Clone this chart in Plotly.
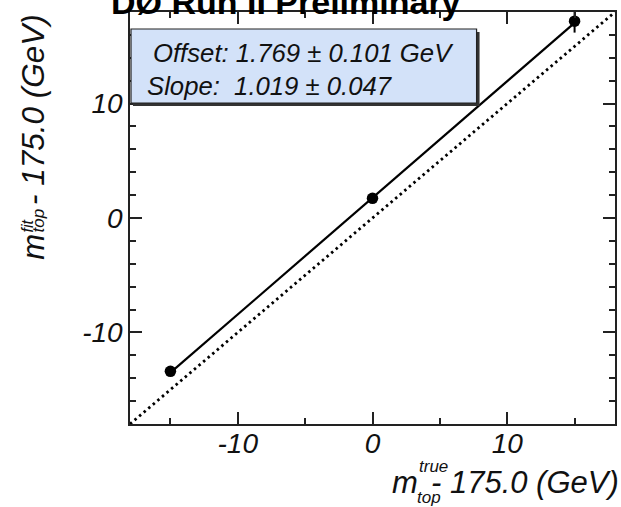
import plotly.graph_objects as go

# Generated top-mass points vs. fitted mass (both shifted by 175 GeV)
m_true = [-15.0, 0.0, 15.0]
m_fit = [-13.4, 1.72, 17.2]
m_fit_err = [0.4, 0.4, 1.0]

# Linear calibration fit result
fit_offset = 1.769
fit_offset_err = 0.101
fit_slope = 1.019
fit_slope_err = 0.047

# Unit-slope reference line
ref_x = [-18.0, 18.0]

tick_vals = [-10, 0, 10]
tick_text = ["-10", "0", "10"]

W, H = 621, 507
L, R, T, B = 130, 617, 12, 424
FONT = "Liberation Sans"


def fx(p):
    return (p - L) / (R - L)


def fy(p):
    return (B - p) / (B - T)


fit_x = [m_true[0], m_true[-1]]
fit_y = [fit_offset + fit_slope * x for x in fit_x]

fig = go.Figure()

fig.add_trace(go.Scatter(
    x=ref_x, y=ref_x, mode="lines",
    line=dict(color="black", width=2.8, dash="2.5px,3.5px"),
    hoverinfo="skip", showlegend=False,
))
fig.add_trace(go.Scatter(
    x=fit_x, y=fit_y, mode="lines",
    line=dict(color="black", width=2.2),
    showlegend=False,
))
fig.add_trace(go.Scatter(
    x=m_true, y=m_fit, mode="markers",
    marker=dict(color="black", size=11.5),
    error_y=dict(type="data", array=m_fit_err, color="black", thickness=2, width=0),
    showlegend=False,
))

axis_common = dict(
    range=[-18, 18],
    showgrid=False, zeroline=False,
    showline=True, linecolor="#222", linewidth=1.5, mirror="ticks",
    ticks="inside", ticklen=12, tickwidth=1.5, tickcolor="#222",
    tickmode="array", tickvals=tick_vals, ticktext=tick_text,
    tickfont=dict(family=FONT, size=28, color="#111", style="italic"),
)

fig.update_xaxes(
    **axis_common,
    ticklabelstandoff=-6,
    minor=dict(ticks="inside", ticklen=6, tickwidth=1.5, tickcolor="#222",
               tickmode="linear", tick0=0, dtick=5),
)
fig.update_yaxes(
    **axis_common,
    minor=dict(ticks="inside", ticklen=6, tickwidth=1.5, tickcolor="#222",
               tickmode="linear", tick0=0, dtick=2),
)

shapes = [
    # shadow of the fit-result box
    dict(type="rect", xref="paper", yref="paper",
         x0=fx(133), x1=fx(481), y0=fy(106), y1=fy(32),
         fillcolor="#333", line=dict(width=0), layer="above"),
    dict(type="rect", xref="paper", yref="paper",
         x0=fx(131), x1=fx(478), y0=fy(103), y1=fy(29),
         fillcolor="#d3e2f9", line=dict(color="#222", width=1.2), layer="above"),
]

ann = []


def text_at(txt, x_left, baseline, size):
    ann.append(dict(
        text=txt, xref="paper", yref="paper",
        x=fx(x_left), y=fy(baseline - 0.3465 * size),
        xanchor="left", yanchor="middle", showarrow=False,
        font=dict(family=FONT, size=size, color="#111", style="italic"),
        borderpad=0,
    ))


def vtext_at(txt, baseline_x, y_bottom, size):
    ann.append(dict(
        text=txt, xref="paper", yref="paper",
        x=fx(baseline_x - 0.3465 * size), y=fy(y_bottom),
        xanchor="center", yanchor="bottom", showarrow=False, textangle=-90,
        font=dict(family=FONT, size=size, color="#111", style="italic"),
        borderpad=0,
    ))


# Title (runs off the top of the canvas)
ann.append(dict(
    text="DØ Run II Preliminary", xref="paper", yref="paper",
    x=fx(287), y=fy(14 - 0.3465 * 34), xanchor="center", yanchor="middle",
    showarrow=False, borderpad=0,
    font=dict(family=FONT, size=34, color="black", weight="bold"),
))

# Fit result box text
text_at(f"Offset: {fit_offset:.3f} ± {fit_offset_err:.3f} GeV", 152, 62, 25.7)
text_at(f"Slope:  {fit_slope:.3f} ± {fit_slope_err:.3f}", 146, 95, 25.7)

# x-axis title
text_at("m", 392, 493, 31)
text_at("true", 419, 472, 17)
text_at("top", 417, 503, 17)
text_at("- 175.0 (GeV)", 431, 493, 31)

# y-axis title (rotated)
vtext_at("m", 43, 261, 31)
vtext_at("fit", 33, 233, 16)
vtext_at("top", 44, 233, 17)
vtext_at("- 175.0 (GeV)", 43, 206, 31.5)

fig.update_layout(
    width=W, height=H,
    margin=dict(l=L, r=W - R, t=T, b=H - B),
    paper_bgcolor="white", plot_bgcolor="white",
    shapes=shapes, annotations=ann,
    showlegend=False,
)

fig.write_html("out.html")
